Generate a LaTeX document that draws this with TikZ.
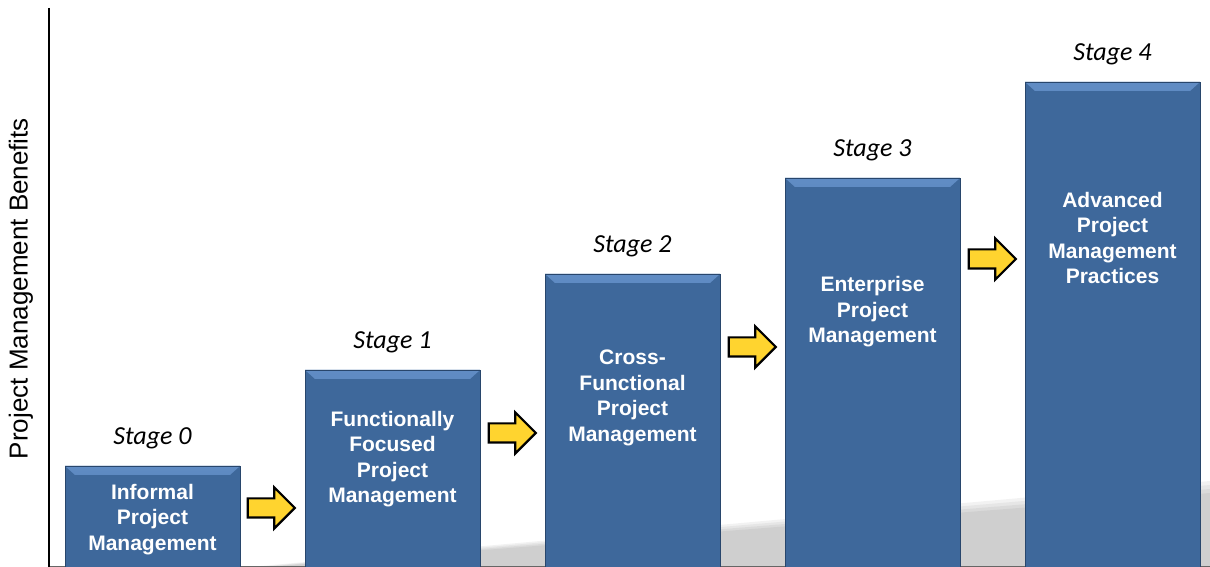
\documentclass[tikz,border=0pt]{standalone}
\usepackage{fontspec}
\setmainfont{Liberation Sans}
\newfontfamily\stagefont{Carlito}
\usetikzlibrary{positioning,calc,shapes.arrows}

\definecolor{barblue}{RGB}{62,104,155}
\definecolor{bevelhi}{RGB}{96,140,196}
\definecolor{baredge}{RGB}{40,70,108}
\definecolor{arrowyellow}{RGB}{255,212,47}

\tikzset{
  stagebar/.style={rectangle, fill=barblue, draw=baredge, line width=0.6pt,
    minimum width=175pt, inner sep=0pt, outer sep=0pt, anchor=south,
    path picture={
      \fill[top color=bevelhi, bottom color=barblue!95!bevelhi]
        (path picture bounding box.north west) -- (path picture bounding box.north east)
        -- ++(-10pt,-9pt) -- ($(path picture bounding box.north west)+(10pt,-9pt)$) -- cycle;
    }},
  bartext/.style={text=white, align=center, font=\bfseries\fontsize{21}{25.5}\selectfont},
  stagelabel/.style={font=\stagefont\itshape\fontsize{26}{30}\selectfont},
  stepcue/.style={single arrow, fill=arrowyellow, draw=black, line width=2.2pt,
    minimum height=47pt, inner xsep=0pt, inner ysep=8.5pt,
    single arrow head extend=11pt, outer sep=0pt},
}

\begin{document}
\begin{tikzpicture}[x=1pt,y=1pt]
    \useasboundingbox (0,0) rectangle (1210,567);

    % Shadow behind the bars
    \fill[black,opacity=0.05] (250,0) -- (1210,86) -- (1210,0) -- cycle;
    \fill[black,opacity=0.05] (256,0) -- (1210,82) -- (1210,0) -- cycle;
    \fill[black,opacity=0.05] (262,0) -- (1210,78) -- (1210,0) -- cycle;
    \fill[black,opacity=0.05] (268,0) -- (1210,74) -- (1210,0) -- cycle;

    % Axes
    \draw[black!60, line width=0.8pt] (49,0.4) -- (1210,0.4);
    \draw[line width=1.6pt] (49,559) -- (49,0);
    \node[rotate=90, font=\fontsize{26}{30}\selectfont] (ylabel) at (21,278.5) {Project Management Benefits};

    % Bars
    \node[stagebar, minimum height=101pt] (bar0) at (152.5,0) {};
    \node[stagebar, minimum height=197pt] (bar1) at (392.5,0) {};
    \node[stagebar, minimum height=293pt] (bar2) at (632.5,0) {};
    \node[stagebar, minimum height=389pt] (bar3) at (872.5,0) {};
    \node[stagebar, minimum height=485pt] (bar4) at (1112.5,0) {};

    % Texts in the bars
    \node[bartext] (txt0) at (152.5,47.5) {Informal\\Project\\Management};
    \node[bartext] (txt1) at (392.5,108) {Functionally\\Focused\\Project\\Management};
    \node[bartext] (txt2) at (632.5,169) {Cross-\\Functional\\Project\\Management};
    \node[bartext] (txt3) at (872.5,255) {Enterprise\\Project\\Management};
    \node[bartext] (txt4) at (1112.5,329) {Advanced\\Project\\Management\\Practices};

    % Stage labels
    \node[stagelabel, above=14pt of bar0] (stage0) {Stage 0};
    \node[stagelabel, above=14pt of bar1] (stage1) {Stage 1};
    \node[stagelabel, above=14pt of bar2] (stage2) {Stage 2};
    \node[stagelabel, above=14pt of bar3] (stage3) {Stage 3};
    \node[stagelabel, above=14pt of bar4] (stage4) {Stage 4};

    % Arrows between the bars
    \node[stepcue] (step01) at (266.5,59) {};
    \node[stepcue] (step12) at (507.5,134) {};
    \node[stepcue] (step23) at (747.5,220) {};
    \node[stepcue] (step34) at (987.5,308) {};
\end{tikzpicture}
\end{document}
